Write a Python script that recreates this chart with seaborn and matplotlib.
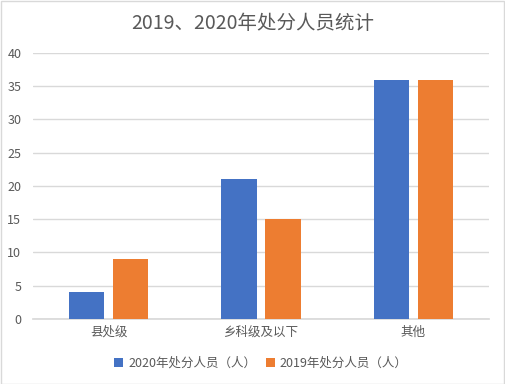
import matplotlib
matplotlib.use("Agg")
import matplotlib.pyplot as plt
import seaborn as sns
import pandas as pd
from matplotlib.patches import Rectangle

categories = ["县处级", "乡科级及以下", "其他"]
series_2020 = [4, 21, 36]
series_2019 = [9, 15, 36]
series_names = ["2020年处分人员（人）", "2019年处分人员（人）"]
yticks = [0, 5, 10, 15, 20, 25, 30, 35, 40]

sns.set_theme(style="white")
plt.rcParams['font.family'] = ['Noto Sans CJK SC', 'DejaVu Sans']

df = pd.DataFrame({
    "cat": categories * 2,
    "val": series_2020 + series_2019,
    "series": [series_names[0]] * 3 + [series_names[1]] * 3,
})

fig = plt.figure(figsize=(5.05, 3.84), dpi=100)
ax = fig.add_axes([0.0644, 0.1693, 0.9046, 0.6927])
txt = "#595959"
sns.barplot(data=df, x="cat", y="val", hue="series", ax=ax,
            palette=["#4472C4", "#ED7D31"], width=0.578, gap=0.2,
            saturation=1, errorbar=None, linewidth=0, zorder=3)
ax.set_ylim(0, 40)
ax.set_xlim(-0.5, 2.5)
ax.set_yticks(yticks)
ax.yaxis.grid(True, color="#D9D9D9", linewidth=1, zorder=0)
ax.set_axisbelow(True)
for s in ["top", "right", "left"]:
    ax.spines[s].set_visible(False)
ax.spines["bottom"].set_color("#D9D9D9")
ax.set_xlabel("")
ax.set_ylabel("")
ax.tick_params(axis="y", length=0, labelsize=9, labelcolor=txt, pad=8)
ax.tick_params(axis="x", length=0, labelsize=9, labelcolor=txt, pad=5)

leg = ax.legend(loc="upper center", bbox_to_anchor=(0.5, -0.1), ncol=2,
                frameon=False, fontsize=9, handlelength=0.7, handleheight=0.7,
                handletextpad=0.4, columnspacing=0.8)
for t in leg.get_texts():
    t.set_color(txt)

fig.text(0.5, 0.94, "2019、2020年处分人员统计", ha="center", va="center",
         fontsize=14, color=txt)
fig.patches.append(Rectangle((0.001, 0.001), 0.997, 0.997, transform=fig.transFigure,
                             fill=False, edgecolor="#D9D9D9", linewidth=1))
fig.savefig("out.png", dpi=100)
